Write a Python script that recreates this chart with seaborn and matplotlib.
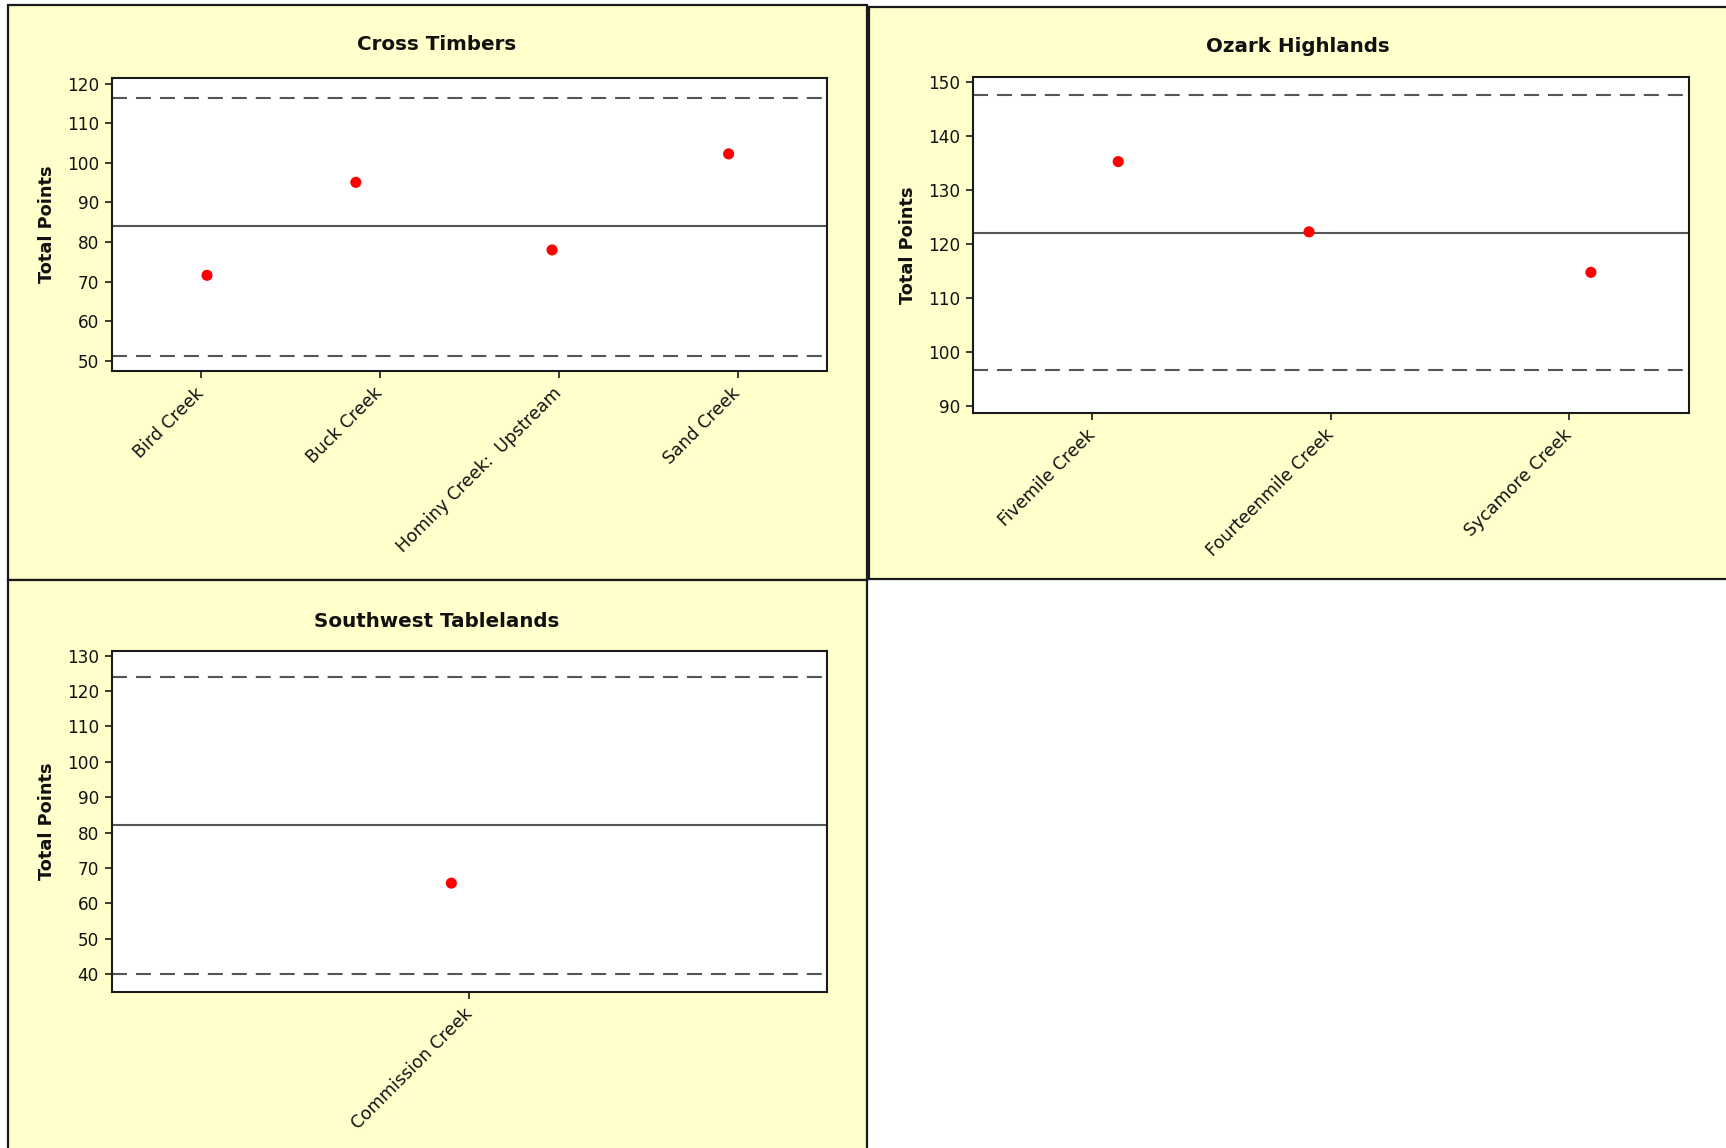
import numpy as np
import pandas as pd
import matplotlib
matplotlib.use("Agg")
import matplotlib.pyplot as plt
from matplotlib.patches import Rectangle
import seaborn as sns

# Individual value plots of total points by site, one panel per ecoregion
ct_sites = ["Bird Creek", "Buck Creek", "Hominy Creek:  Upstream", "Sand Creek"]
ct_points = [71.6, 95.1, 78.0, 102.3]
ct_center, ct_upper, ct_lower = 84.0, 116.5, 51.3
ct_jitter = [0.034, -0.134, -0.037, -0.05]
ct_ticks = [50, 60, 70, 80, 90, 100, 110, 120]

oz_sites = ["Fivemile Creek", "Fourteenmile Creek", "Sycamore Creek"]
oz_points = [135.3, 122.3, 114.8]
oz_center, oz_upper, oz_lower = 122.1, 147.6, 96.7
oz_jitter = [0.108, -0.092, 0.09]
oz_ticks = [90, 100, 110, 120, 130, 140, 150]

sw_sites = ["Commission Creek"]
sw_points = [65.7]
sw_center, sw_upper, sw_lower = 82.0, 123.9, 40.1
sw_jitter = [-0.025]
sw_ticks = [40, 50, 60, 70, 80, 90, 100, 110, 120, 130]

W, H = 1726, 1148
PANEL = "#FFFFCC"
LINE = "#555555"
INK = "#111111"

sns.set_theme(style="white")
plt.rcParams["font.family"] = ["DejaVu Sans"]
plt.rcParams["text.color"] = INK
plt.rcParams["axes.labelcolor"] = INK
plt.rcParams["xtick.color"] = INK
plt.rcParams["ytick.color"] = INK

fig = plt.figure(figsize=(W / 100, H / 100), dpi=100)
fig.patch.set_facecolor("white")


def px_rect(x0, y0, x1, y1):
    return [x0 / W, 1 - y1 / H, (x1 - x0) / W, (y1 - y0) / H]


# panel backgrounds with borders, kept beneath the axes
for (x0, y0, x1, y1) in [(8, 5, 867, 580), (869, 6.5, 1740, 579), (8, 580, 867, 1160)]:
    fig.patches.append(Rectangle((x0 / W, 1 - y1 / H), (x1 - x0) / W, (y1 - y0) / H,
                                 transform=fig.transFigure, facecolor=PANEL,
                                 edgecolor="#1a1a1a", linewidth=1.6, zorder=-5))


def draw_panel(rect, title, title_xy, sites, points, jitter, center, upper, lower, ylim, yticks):
    ax = fig.add_axes(px_rect(*rect))
    ax.set_zorder(2)
    ax.set_facecolor("white")
    df = pd.DataFrame({"pos": np.arange(len(sites)) + np.array(jitter), "points": points})
    ax.axhline(center, color=LINE, lw=1.5, zorder=1)
    for v in (upper, lower):
        ax.axhline(v, color=LINE, lw=1.5, dashes=(7.2, 4.3), zorder=1)
    sns.scatterplot(data=df, x="pos", y="points", ax=ax, color="#FF0000",
                    s=64, edgecolor="none", zorder=3, legend=False)
    ax.set_xlim(-0.5, len(sites) - 0.5)
    ax.set_ylim(*ylim)
    ax.set_xticks(np.arange(len(sites)))
    ax.set_xticklabels(sites, rotation=45, ha="right", va="center",
                       rotation_mode="anchor", fontsize=12.5)
    ax.set_yticks(yticks)
    ax.set_yticklabels([str(t) for t in yticks], fontsize=12.2)
    ax.tick_params(axis="both", direction="out", length=5, width=1.2, color="#1a1a1a",
                   pad=4, bottom=True, left=True)
    ax.tick_params(axis="x", pad=9)
    ax.set_xlabel("")
    ax.set_ylabel("Total Points", fontsize=12.8, fontweight="bold")
    ax.yaxis.set_label_coords(-0.078, 0.5)
    for sp in ax.spines.values():
        sp.set_visible(True)
        sp.set_color("#1a1a1a")
        sp.set_linewidth(1.5)
    fig.text(title_xy[0] / W, 1 - title_xy[1] / H, title, ha="center", va="center",
             fontsize=14.3, fontweight="bold")
    return ax


draw_panel((111.5, 78.3, 827, 371), "Cross Timbers", (437, 44),
           ct_sites, ct_points, ct_jitter, ct_center, ct_upper, ct_lower,
           (47.4, 121.4), ct_ticks)
draw_panel((973.2, 77, 1688.7, 412.6), "Ozark Highlands", (1298, 46),
           oz_sites, oz_points, oz_jitter, oz_center, oz_upper, oz_lower,
           (88.84, 150.96), oz_ticks)
draw_panel((111.5, 650.6, 827, 991.7), "Southwest Tablelands", (437, 621),
           sw_sites, sw_points, sw_jitter, sw_center, sw_upper, sw_lower,
           (35.0, 131.45), sw_ticks)

fig.savefig("out.png", dpi=100, facecolor="white")
